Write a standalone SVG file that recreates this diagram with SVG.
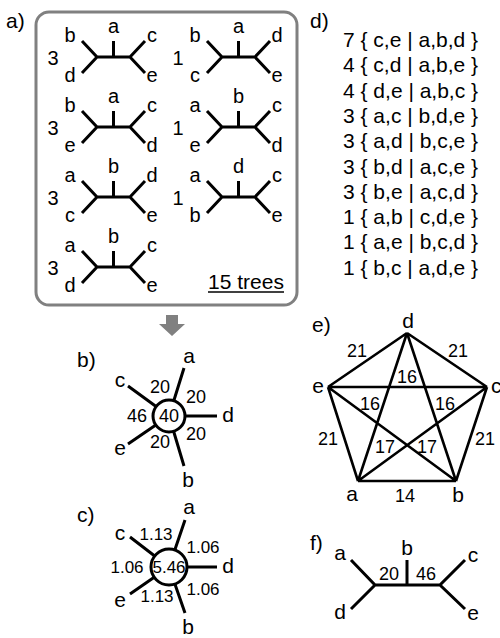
<svg xmlns="http://www.w3.org/2000/svg" width="500" height="638" viewBox="0 0 500 638">
<style>
text{font-family:"Liberation Sans",Arial,sans-serif;fill:#000}
.lab{font-size:21px}
.lf{font-size:20px;text-anchor:middle}
.ct{font-size:20px;text-anchor:middle}
.num{font-size:18px;text-anchor:middle}
.row{font-size:21px}
.ln{stroke:#000;stroke-width:3;fill:none;stroke-linecap:butt}
.el{stroke:#000;stroke-width:2.6;fill:none}
</style>
<defs>
<g id="tree">
<path class="ln" d="M82,41 L97,57 L82,73 M97,57 L130,57 M113.5,57 L113.5,41 M145,41 L130,57 L145,73"/>
</g>
</defs>
<rect width="500" height="638" fill="#fff"/>

<!-- panel a -->
<g id="panel-a">
<text class="lab" x="6" y="28">a)</text>
<rect x="36" y="12" width="261" height="293" rx="13" fill="none" stroke="#808080" stroke-width="3"/>
</g>
<g id="tree-1">
<use href="#tree"/>
<text class="ct" x="53" y="65">3</text>
<text class="lf" x="70" y="42">b</text><text class="lf" x="70" y="82">d</text>
<text class="lf" x="113.5" y="33">a</text>
<text class="lf" x="152" y="42">c</text><text class="lf" x="152" y="82">e</text>
</g>
<g id="tree-2" transform="translate(125,0)">
<use href="#tree"/>
<text class="ct" x="53" y="65">1</text>
<text class="lf" x="70" y="42">b</text><text class="lf" x="70" y="82">c</text>
<text class="lf" x="113.5" y="33">a</text>
<text class="lf" x="152" y="42">d</text><text class="lf" x="152" y="82">e</text>
</g>
<g id="tree-3" transform="translate(0,70)">
<use href="#tree"/>
<text class="ct" x="53" y="65">3</text>
<text class="lf" x="70" y="42">b</text><text class="lf" x="70" y="82">e</text>
<text class="lf" x="113.5" y="33">a</text>
<text class="lf" x="152" y="42">c</text><text class="lf" x="152" y="82">d</text>
</g>
<g id="tree-4" transform="translate(125,70)">
<use href="#tree"/>
<text class="ct" x="53" y="65">1</text>
<text class="lf" x="70" y="42">a</text><text class="lf" x="70" y="82">e</text>
<text class="lf" x="113.5" y="33">b</text>
<text class="lf" x="152" y="42">c</text><text class="lf" x="152" y="82">d</text>
</g>
<g id="tree-5" transform="translate(0,140)">
<use href="#tree"/>
<text class="ct" x="53" y="65">3</text>
<text class="lf" x="70" y="42">a</text><text class="lf" x="70" y="82">c</text>
<text class="lf" x="113.5" y="33">b</text>
<text class="lf" x="152" y="42">d</text><text class="lf" x="152" y="82">e</text>
</g>
<g id="tree-6" transform="translate(125,140)">
<use href="#tree"/>
<text class="ct" x="53" y="65">1</text>
<text class="lf" x="70" y="42">a</text><text class="lf" x="70" y="82">b</text>
<text class="lf" x="113.5" y="33">d</text>
<text class="lf" x="152" y="42">c</text><text class="lf" x="152" y="82">e</text>
</g>
<g id="tree-7" transform="translate(0,210)">
<use href="#tree"/>
<text class="ct" x="53" y="65">3</text>
<text class="lf" x="70" y="42">a</text><text class="lf" x="70" y="82">d</text>
<text class="lf" x="113.5" y="33">b</text>
<text class="lf" x="152" y="42">c</text><text class="lf" x="152" y="82">e</text>
</g>
<g id="trees-count">
<text x="208" y="289" style="font-size:21px">15 trees</text>
<line x1="208" y1="292" x2="284" y2="292" stroke="#000" stroke-width="1.3"/>
</g>

<!-- arrow -->
<g id="arrow">
<polygon points="166,315 178,315 178,324 185,324 172,336 159,324 166,324" fill="#808080"/>
</g>

<!-- panel b -->
<g id="panel-b">
<text class="lab" x="77" y="367">b)</text>
<circle cx="169" cy="416" r="16" fill="none" stroke="#000" stroke-width="3"/>
<path class="ln" d="M173.8,400.7 L184,368 M185,416 L217,416 M173.6,431.3 L184,466 M156.1,406.5 L128,386 M155.8,425 L128,444"/>
<text class="lf" x="189" y="363" style="font-size:21px">a</text>
<text class="lf" x="228" y="422" style="font-size:21px">d</text>
<text class="lf" x="188" y="487" style="font-size:21px">b</text>
<text class="lf" x="120" y="387" style="font-size:21px">c</text>
<text class="lf" x="120" y="455" style="font-size:21px">e</text>
<text class="num" x="160" y="393">20</text>
<text class="num" x="196" y="403">20</text>
<text class="num" x="137" y="422">46</text>
<text class="num" x="169" y="422">40</text>
<text class="num" x="196" y="440">20</text>
<text class="num" x="160" y="448">20</text>
</g>

<!-- panel c -->
<g id="panel-c">
<text class="lab" x="77" y="522">c)</text>
<circle cx="169" cy="567" r="18" fill="none" stroke="#000" stroke-width="3"/>
<path class="ln" d="M174.8,550 L185,520 M187,567 L217,567 M174.9,584 L185,613 M154.7,556 L130,537 M154.2,577.2 L130,594"/>
<text class="lf" x="189" y="514" style="font-size:21px">a</text>
<text class="lf" x="228" y="573" style="font-size:21px">d</text>
<text class="lf" x="188" y="634" style="font-size:21px">b</text>
<text class="lf" x="120" y="540" style="font-size:21px">c</text>
<text class="lf" x="120" y="607" style="font-size:21px">e</text>
<text class="num" x="156" y="540" style="font-size:17px">1.13</text>
<text class="num" x="203" y="553" style="font-size:17px">1.06</text>
<text class="num" x="127" y="573" style="font-size:17px">1.06</text>
<text class="num" x="169" y="573" style="font-size:17px">5.46</text>
<text class="num" x="203" y="595" style="font-size:17px">1.06</text>
<text class="num" x="157" y="602" style="font-size:17px">1.13</text>
</g>

<!-- panel d -->
<g id="panel-d">
<text class="lab" x="310" y="28">d)</text>
<text class="row" x="343" y="47">7 { c,e | a,b,d }</text>
<text class="row" x="343" y="72.3">4 { c,d | a,b,e }</text>
<text class="row" x="343" y="97.6">4 { d,e | a,b,c }</text>
<text class="row" x="343" y="122.9">3 { a,c | b,d,e }</text>
<text class="row" x="343" y="148.2">3 { a,d | b,c,e }</text>
<text class="row" x="343" y="173.5">3 { b,d | a,c,e }</text>
<text class="row" x="343" y="198.8">3 { b,e | a,c,d }</text>
<text class="row" x="343" y="224.1">1 { a,b | c,d,e }</text>
<text class="row" x="343" y="249.4">1 { a,e | b,c,d }</text>
<text class="row" x="343" y="274.7">1 { b,c | a,d,e }</text>
</g>

<!-- panel e -->
<g id="panel-e">
<text class="lab" x="312" y="332">e)</text>
</g>
<g id="connectors-e">
<path class="el" d="M407,333 L328,387 M407,333 L487,387 M407,333 L358,481 M407,333 L456,481 M328,387 L487,387 M328,387 L358,481 M328,387 L456,481 M487,387 L358,481 M487,387 L456,481 M358,481 L456,481"/>
</g>
<g id="node-d"><text class="lf" x="408" y="328" style="font-size:21px">d</text></g>
<g id="node-e"><text class="lf" x="318" y="393" style="font-size:21px">e</text></g>
<g id="node-c"><text x="491" y="393" style="font-size:21px">c</text></g>
<g id="node-a"><text class="lf" x="352" y="501" style="font-size:21px">a</text></g>
<g id="node-b"><text class="lf" x="458" y="502" style="font-size:21px">b</text></g>
<g id="edge-labels-e">
<text class="num" x="357" y="357">21</text>
<text class="num" x="458" y="357">21</text>
<text class="num" x="328" y="445">21</text>
<text class="num" x="485" y="445">21</text>
<text class="num" x="407" y="383">16</text>
<text class="num" x="370" y="410">16</text>
<text class="num" x="445" y="410">16</text>
<text class="num" x="385" y="453">17</text>
<text class="num" x="427" y="453">17</text>
<text class="num" x="405" y="502">14</text>
</g>

<!-- panel f -->
<g id="panel-f">
<text class="lab" x="310" y="550">f)</text>
<path class="ln" d="M351,560 L375,585 L351,609 M375,585 L440,585 M407,585 L407,560 M465,560 L440,585 L465,609"/>
<text class="lf" x="340" y="560" style="font-size:21px">a</text>
<text class="lf" x="340" y="619" style="font-size:21px">d</text>
<text class="lf" x="407" y="555" style="font-size:21px">b</text>
<text class="lf" x="473" y="562" style="font-size:21px">c</text>
<text class="lf" x="473" y="620" style="font-size:21px">e</text>
<text class="num" x="389" y="580">20</text>
<text class="num" x="426" y="580">46</text>
</g>
</svg>
